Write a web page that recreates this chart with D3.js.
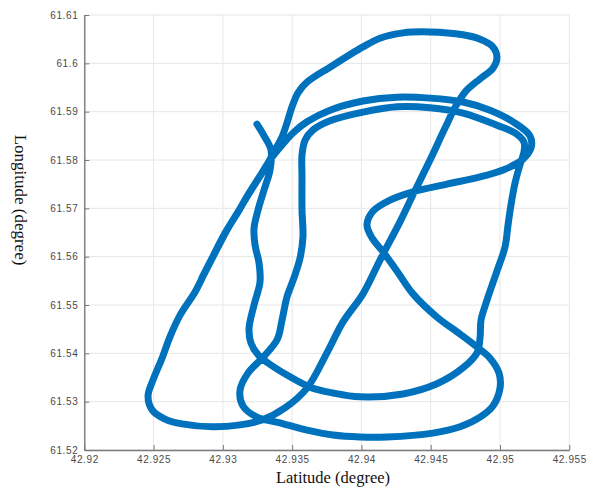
<!DOCTYPE html>
<html>
<head>
<meta charset="utf-8">
<script src="https://cdn.jsdelivr.net/npm/d3@7/dist/d3.min.js"></script>
<style>
  html, body { margin: 0; padding: 0; background: #fff; }
  svg { display: block; }
</style>
</head>
<body>
<svg id="chart" width="593" height="488"></svg>
<script>
// Flight track, one continuous trace (latitude, longitude in degrees)
const latitude = [
  42.93246, 42.93297, 42.93347, 42.93340, 42.93297, 42.93254, 42.93225, 42.93232, 42.93261, 42.93268,
  42.93225, 42.93189, 42.93203, 42.93254, 42.93326, 42.93463, 42.93629, 42.93795, 42.93990, 42.94300,
  42.94545, 42.94733, 42.94834, 42.94856, 42.94863, 42.94906, 42.94978, 42.95036, 42.95058, 42.95079,
  42.95108, 42.95144, 42.95173, 42.95173, 42.95108, 42.94978, 42.94733, 42.94495, 42.94257, 42.94011,
  42.93773, 42.93650, 42.93593, 42.93571, 42.93571, 42.93571, 42.93578, 42.93557, 42.93513, 42.93463,
  42.93427, 42.93391, 42.93290, 42.93181, 42.93124, 42.93145, 42.93246, 42.93412, 42.93607, 42.93795,
  42.93990, 42.94184, 42.94516, 42.94711, 42.94856, 42.94949, 42.95000, 42.94993, 42.94928, 42.94834,
  42.94711, 42.94545, 42.94372, 42.94257, 42.94156, 42.94076, 42.94040, 42.94083, 42.94206, 42.94372,
  42.94617, 42.94856, 42.95036, 42.95159, 42.95224, 42.95216, 42.95094, 42.94928, 42.94733, 42.94495,
  42.94257, 42.94011, 42.93773, 42.93607, 42.93506, 42.93427, 42.93340, 42.93268, 42.93181, 42.93109,
  42.93037, 42.92958, 42.92864, 42.92799, 42.92691, 42.92618, 42.92561, 42.92496, 42.92460, 42.92489,
  42.92582, 42.92705, 42.92929, 42.93124, 42.93282, 42.93448, 42.93607, 42.93751, 42.93867, 42.94011,
  42.94134, 42.94278, 42.94372, 42.94495, 42.94603, 42.94682, 42.94755, 42.94856, 42.94949, 42.94978,
  42.94942, 42.94856, 42.94733, 42.94495, 42.94300, 42.94134, 42.94011, 42.93773, 42.93607, 42.93542,
  42.93499, 42.93463, 42.93427, 42.93369, 42.93304, 42.93196, 42.93095, 42.93008, 42.92922, 42.92849
];
const longitude = [
  61.5874, 61.5850, 61.5821, 61.5779, 61.5738, 61.5697, 61.5659, 61.5624, 61.5587, 61.5548,
  61.5500, 61.5452, 61.5421, 61.5397, 61.5380, 61.5355, 61.5330, 61.5318, 61.5310, 61.5316,
  61.5337, 61.5370, 61.5401, 61.5432, 61.5469, 61.5510, 61.5570, 61.5620, 61.5666, 61.5707,
  61.5752, 61.5790, 61.5817, 61.5837, 61.5856, 61.5872, 61.5897, 61.5908, 61.5910, 61.5899,
  61.5881, 61.5862, 61.5841, 61.5810, 61.5765, 61.5697, 61.5641, 61.5597, 61.5556, 61.5517,
  61.5469, 61.5428, 61.5392, 61.5359, 61.5324, 61.5291, 61.5268, 61.5256, 61.5241, 61.5231,
  61.5227, 61.5227, 61.5235, 61.5248, 61.5268, 61.5291, 61.5328, 61.5359, 61.5390, 61.5413,
  61.5440, 61.5475, 61.5523, 61.5570, 61.5610, 61.5639, 61.5666, 61.5694, 61.5717, 61.5734,
  61.5750, 61.5765, 61.5781, 61.5800, 61.5825, 61.5850, 61.5879, 61.5903, 61.5920, 61.5928,
  61.5930, 61.5922, 61.5903, 61.5879, 61.5856, 61.5831, 61.5800, 61.5767, 61.5728, 61.5692,
  61.5659, 61.5616, 61.5564, 61.5527, 61.5479, 61.5434, 61.5390, 61.5345, 61.5312, 61.5283,
  61.5264, 61.5254, 61.5248, 61.5252, 61.5262, 61.5287, 61.5328, 61.5401, 61.5465, 61.5523,
  61.5593, 61.5672, 61.5728, 61.5800, 61.5866, 61.5912, 61.5943, 61.5968, 61.5990, 61.6013,
  61.6036, 61.6050, 61.6059, 61.6065, 61.6063, 61.6052, 61.6034, 61.5992, 61.5961, 61.5939,
  61.5910, 61.5877, 61.5848, 61.5817, 61.5783, 61.5734, 61.5686, 61.5645, 61.5597, 61.5556
];

const xTicks = [42.92, 42.925, 42.93, 42.935, 42.94, 42.945, 42.95, 42.955];
const xTickLabels = ["42.92", "42.925", "42.93", "42.935", "42.94", "42.945", "42.95", "42.955"];
const yTicks = [61.52, 61.53, 61.54, 61.55, 61.56, 61.57, 61.58, 61.59, 61.6, 61.61];
const yTickLabels = ["61.52", "61.53", "61.54", "61.55", "61.56", "61.57", "61.58", "61.59", "61.6", "61.61"];

const xTitle = "Latitude (degree)";
const yTitle = "Longitude (degree)";

const svg = d3.select("#chart");
const plotLeft = 84.3, plotRight = 569.3, plotTop = 15, plotBottom = 450;

const x = d3.scaleLinear().domain([42.92, 42.955]).range([plotLeft, plotRight]);
const y = d3.scaleLinear().domain([61.52, 61.61]).range([plotBottom, plotTop]);

svg.append("rect").attr("width", 593).attr("height", 488).attr("fill", "#fff");

// grid
const grid = svg.append("g").attr("stroke", "#e6e6e6").attr("stroke-width", 1);
grid.selectAll("line.gx").data(xTicks).join("line")
  .attr("x1", d => x(d)).attr("x2", d => x(d))
  .attr("y1", plotTop).attr("y2", plotBottom);
grid.selectAll("line.gy").data(yTicks).join("line")
  .attr("x1", plotLeft).attr("x2", plotRight)
  .attr("y1", d => y(d)).attr("y2", d => y(d));

// axes (ticks point inward)
const xAxis = d3.axisBottom(x).tickValues(xTicks)
  .tickFormat((d, i) => xTickLabels[i]).tickSizeInner(-5).tickSizeOuter(0).tickPadding(6);
const yAxis = d3.axisLeft(y).tickValues(yTicks)
  .tickFormat((d, i) => yTickLabels[i]).tickSizeInner(-5).tickSizeOuter(0).tickPadding(6);

const gx = svg.append("g").attr("transform", `translate(0,${plotBottom})`).call(xAxis);
const gy = svg.append("g").attr("transform", `translate(${plotLeft},0)`).call(yAxis);

[gx, gy].forEach(g => {
  g.select(".domain").attr("stroke", "#7a7a7a").attr("stroke-width", 1.4);
  g.selectAll(".tick line").attr("stroke", "#7a7a7a").attr("stroke-width", 1);
  g.selectAll(".tick text")
    .attr("fill", "#4a4a4a")
    .style("font-family", "'Liberation Sans', Arial, sans-serif")
    .style("font-size", "10px")
    .style("letter-spacing", "0.6px");
});

// flight track
const pts = latitude.map((d, i) => [d, longitude[i]]);
const line = d3.line()
  .x(d => x(d[0]))
  .y(d => y(d[1]))
  .curve(d3.curveCatmullRom.alpha(0.5));

svg.append("path")
  .datum(pts)
  .attr("d", line)
  .attr("fill", "none")
  .attr("stroke", "#0072BD")
  .attr("stroke-width", 7)
  .attr("stroke-linejoin", "round")
  .attr("stroke-linecap", "round");

// axis titles
svg.append("text")
  .attr("x", 333).attr("y", 483)
  .attr("text-anchor", "middle")
  .style("font-family", "'Liberation Serif', 'Times New Roman', serif")
  .style("font-size", "16.5px")
  .attr("fill", "#111")
  .text(xTitle);

svg.append("text")
  .attr("transform", "translate(15,200) rotate(90)")
  .attr("text-anchor", "middle")
  .style("font-family", "'Liberation Serif', 'Times New Roman', serif")
  .style("font-size", "17px")
  .attr("fill", "#111")
  .text(yTitle);
</script>
</body>
</html>
